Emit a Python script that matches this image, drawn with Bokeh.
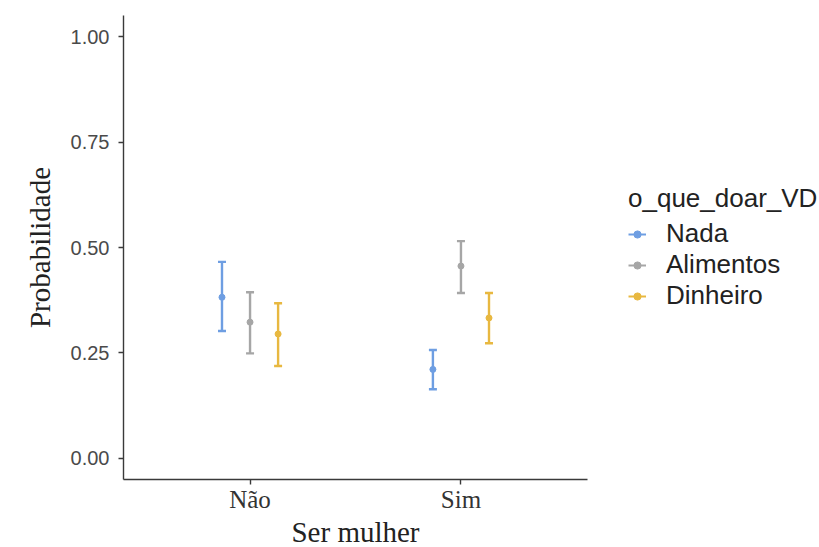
from bokeh.plotting import figure
from bokeh.models import FactorRange, Range1d, Whisker, ColumnDataSource, Legend, LegendItem, FixedTicker
from bokeh.transform import dodge
from bokeh.embed import file_html
from bokeh.resources import INLINE

groups = ["Não", "Sim"]
series = ["Nada", "Alimentos", "Dinheiro"]
colors = ["#6E9EE2", "#A6A6A6", "#E8B840"]

# values per series: [Não, Sim]
est = {"Nada": [0.382, 0.211], "Alimentos": [0.323, 0.456], "Dinheiro": [0.295, 0.333]}
low = {"Nada": [0.302, 0.164], "Alimentos": [0.249, 0.392], "Dinheiro": [0.219, 0.273]}
high = {"Nada": [0.466, 0.257], "Alimentos": [0.394, 0.515], "Dinheiro": [0.368, 0.392]}

yticks = [0.0, 0.25, 0.5, 0.75, 1.0]
ytick_labels = ["0.00", "0.25", "0.50", "0.75", "1.00"]

p = figure(x_range=FactorRange(*groups, range_padding=0.1, range_padding_units="absolute"),
           y_range=Range1d(-0.05, 1.05),
           frame_width=464, frame_height=464,
           min_border_left=123, min_border_top=15, min_border_bottom=0,
           output_backend="svg", toolbar_location=None,
           x_axis_label="Ser mulher", y_axis_label="Probabilidade")
p.outline_line_color = None
p.xgrid.grid_line_color = None
p.ygrid.grid_line_color = None
p.background_fill_color = "white"
p.border_fill_color = "white"

offsets = [-0.133, 0.0, 0.133]
items = []
for s, c, off in zip(series, colors, offsets):
    src = ColumnDataSource(dict(g=groups, y=est[s], lo=low[s], hi=high[s]))
    w = Whisker(base=dodge("g", off, range=p.x_range), upper="hi", lower="lo", source=src,
                line_color=c, line_width=2.4, level="glyph")
    w.upper_head.line_color = c
    w.lower_head.line_color = c
    w.upper_head.line_width = 2.4
    w.lower_head.line_width = 2.4
    w.upper_head.size = 8
    w.lower_head.size = 8
    p.add_layout(w)
    pt = p.scatter(x=dodge("g", off, range=p.x_range), y="y", source=src, size=6,
                   color=c, line_color=c)
    ln = p.line(x=[0, 0], y=[0, 0], line_color=c, line_width=2, visible=False)
    items.append(LegendItem(label=s, renderers=[pt, ln]))

# axis styling
for ax in (p.xaxis[0], p.yaxis[0]):
    ax.axis_line_color = "#3a3a3a"
    ax.axis_line_width = 1.4
    ax.major_tick_line_color = "#3a3a3a"
    ax.major_tick_line_width = 1.4
    ax.major_tick_out = 5
    ax.major_tick_in = 0
    ax.minor_tick_line_color = None
    ax.axis_label_text_font = "Liberation Serif"
    ax.axis_label_text_font_style = "normal"
    ax.axis_label_text_font_size = "29px"
    ax.axis_label_text_color = "#222222"

p.yaxis.ticker = FixedTicker(ticks=yticks)
p.yaxis.major_label_overrides = {t: l for t, l in zip(yticks, ytick_labels)}
p.yaxis.major_label_text_font = "Liberation Sans"
p.yaxis.major_label_text_font_size = "20px"
p.yaxis.major_label_text_color = "#4a4a4a"
p.yaxis.major_label_standoff = 9
p.yaxis.axis_label_standoff = 12

p.xaxis.major_label_text_font = "Liberation Serif"
p.xaxis.major_label_text_font_size = "25px"
p.xaxis.major_label_text_color = "#333333"
p.xaxis.major_label_standoff = 1
p.xaxis.axis_label_standoff = 0

legend = Legend(items=items, title="o_que_doar_VD", location="center_left")
legend.title_text_font = "Liberation Sans"
legend.title_text_font_size = "26px"
legend.title_text_font_style = "normal"
legend.title_text_color = "#222222"
legend.label_text_font = "Liberation Sans"
legend.label_text_font_size = "26px"
legend.label_text_color = "#222222"
legend.border_line_color = None
legend.background_fill_alpha = 0
legend.glyph_width = 18
legend.label_height = 26
legend.glyph_height = 26
legend.label_standoff = 20
legend.spacing = -3
legend.margin = 41
legend.padding = 0
legend.title_standoff = 4
p.add_layout(legend, "right")

open("out.html", "w").write(file_html(p, INLINE))
